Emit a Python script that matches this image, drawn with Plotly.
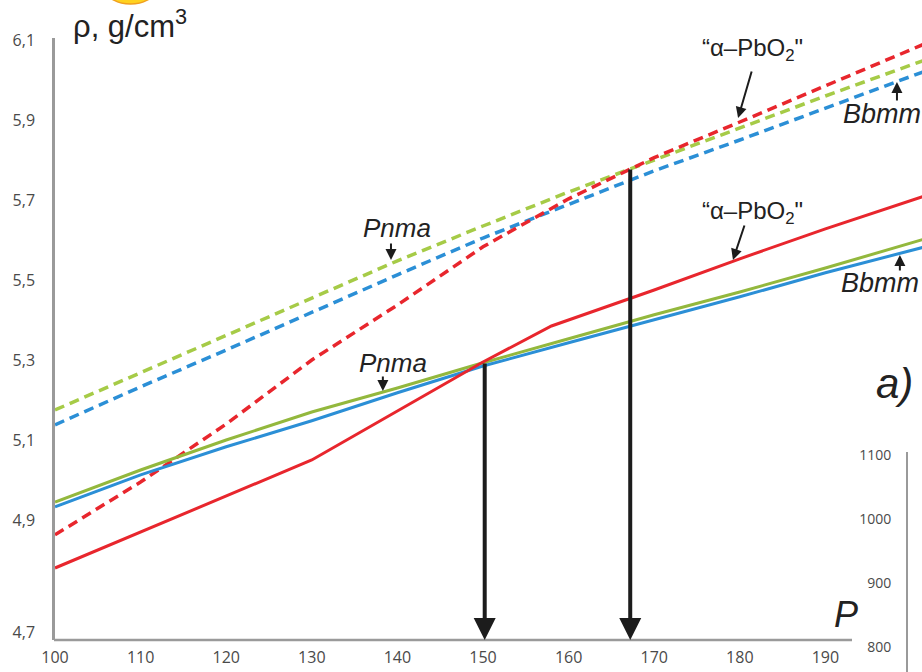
import plotly.graph_objects as go

W, H = 922, 672

# ---- data ----
pressure = [100, 110, 120, 130, 140, 150, 160, 170, 180, 190, 202]
pnma_dashed = [5.175, 5.268, 5.361, 5.455, 5.548, 5.635, 5.72, 5.80, 5.88, 5.96, 6.053]
bbmm_dashed = [5.138, 5.233, 5.325, 5.42, 5.513, 5.605, 5.69, 5.773, 5.85, 5.93, 6.025]
apbo2_dashed = [4.863, 4.995, 5.14, 5.30, 5.4375, 5.583, 5.703, 5.806, 5.895, 5.985, 6.094]
pnma_solid = [4.945, 5.025, 5.10, 5.17, 5.23, 5.293, 5.353, 5.413, 5.47, 5.53, 5.605]
bbmm_solid = [4.933, 5.013, 5.083, 5.148, 5.218, 5.285, 5.343, 5.40, 5.458, 5.518, 5.585]
pressure_apbo2_solid = [100, 130, 150, 158, 170, 180, 190, 202]
apbo2_solid = [4.78, 5.05, 5.295, 5.385, 5.475, 5.553, 5.628, 5.713]

transition_p = [150.2, 167.2]
transition_rho = [5.295, 5.78]

x_tick_vals = [100, 110, 120, 130, 140, 150, 160, 170, 180, 190]
x_tick_text = ["100", "110", "120", "130", "140", "150", "160", "170", "180", "190"]
y_tick_vals = [4.62, 4.9, 5.1, 5.3, 5.5, 5.7, 5.9, 6.1]
y_tick_text = ["4,7", "4,9", "5,1", "5,3", "5,5", "5,7", "5,9", "6,1"]
inset_tick_vals = [800, 900, 1000, 1100]
inset_tick_text = ["800", "900", "1000", "1100"]

# label tips (data coords) for the small pointer arrows
label_tips = {
    "apbo2_top": (179.8, 5.905),
    "bbmm_top": (198.36, 5.995),
    "pnma_top": (139.25, 5.55),
    "apbo2_low": (179.2, 5.55),
    "bbmm_low": (198.7, 5.5625),
    "pnma_low": (138.3, 5.2225),
}

RED = "#e8262d"
GREEN_D = "#a6cb47"
GREEN_S = "#93b83d"
BLUE = "#2b8fd6"
AXIS = "#9a9a9a"
TICKC = "#4a4a4a"

def px(xp):
    return xp / W

def py(yp):
    return 1 - yp / H

fig = go.Figure()

dash = "10px,6px"
fig.add_trace(go.Scatter(x=pressure, y=pnma_dashed, mode="lines",
                         line=dict(color=GREEN_D, width=3.5, dash=dash)))
fig.add_trace(go.Scatter(x=pressure, y=bbmm_dashed, mode="lines",
                         line=dict(color=BLUE, width=3.5, dash=dash)))
fig.add_trace(go.Scatter(x=pressure, y=apbo2_dashed, mode="lines",
                         line=dict(color=RED, width=3.5, dash=dash)))
fig.add_trace(go.Scatter(x=pressure, y=pnma_solid, mode="lines",
                         line=dict(color=GREEN_S, width=3)))
fig.add_trace(go.Scatter(x=pressure, y=bbmm_solid, mode="lines",
                         line=dict(color=BLUE, width=3)))
fig.add_trace(go.Scatter(x=pressure_apbo2_solid, y=apbo2_solid, mode="lines",
                         line=dict(color=RED, width=3)))
# inset axis carrier (empty)
fig.add_trace(go.Scatter(x=[], y=[], xaxis="x2", yaxis="y2"))

y_lo = 4.6
y_hi = 4.6 + 602 / 400.0
x_lo = 100
x_hi = 100 + 867 / 8.56

annotations = []
# big transition arrows
for p, r in zip(transition_p, transition_rho):
    annotations.append(dict(x=p, y=y_lo, xref="x", yref="y", ax=p, ay=r,
                            axref="x", ayref="y", text="", showarrow=True,
                            arrowhead=2, arrowsize=1.1, arrowwidth=4,
                            arrowcolor="#1c1c1c"))

def pointer(key, dx, dy):
    x, y = label_tips[key]
    annotations.append(dict(x=x, y=y, xref="x", yref="y", ax=dx, ay=dy,
                            text="", showarrow=True, arrowhead=2,
                            arrowsize=1.1, arrowwidth=2, arrowcolor="#1c1c1c"))

pointer("apbo2_top", 14, -48)
pointer("bbmm_top", 0, 20)
pointer("pnma_top", 0, -18)
pointer("apbo2_low", 12, -36)
pointer("bbmm_low", 0, 17)
pointer("pnma_low", 0, -16)

def label(text, xp, yp, size, italic=False, xanchor="center"):
    annotations.append(dict(x=px(xp), y=py(yp), xref="paper", yref="paper",
                            text=text, showarrow=False, xanchor=xanchor,
                            yanchor="middle",
                            font=dict(family="Liberation Sans, Arial",
                                      size=size, color="#222222",
                                      style="italic" if italic else "normal")))

label("\u201c\u03b1\u2013PbO<sub>2</sub>\"", 752, 50, 24)
label("Bbmm", 882, 114, 27, italic=True)
label("Pnma", 397, 228, 26, italic=True)
label("\u201c\u03b1\u2013PbO<sub>2</sub>\"", 752, 212, 24)
label("Bbmm", 880, 283, 27, italic=True)
label("Pnma", 393, 363, 26, italic=True)
label("a)", 894, 383, 42, italic=True)
label("P", 846, 614, 36, italic=True)
label("\u03c1, g/cm<sup>3</sup>", 71, 24, 31, xanchor="left")

shapes = [
    # x axis baseline (ends where the inset panel begins)
    dict(type="line", xref="paper", yref="paper", x0=px(54), x1=px(852),
         y0=py(640), y1=py(640), line=dict(color=AXIS, width=2.5)),
    # yellow mark at top
    dict(type="circle", xref="paper", yref="paper", x0=px(107), x1=px(154),
         y0=py(4), y1=py(-22), fillcolor="#ffd21f",
         line=dict(color="#f0a020", width=1.5)),
]

fig.update_layout(
    template="none",
    width=W, height=H, autosize=False,
    margin=dict(l=0, r=0, t=0, b=0, pad=0),
    paper_bgcolor="white", plot_bgcolor="white",
    showlegend=False,
    xaxis=dict(domain=[px(55), 1], range=[x_lo, x_hi], showgrid=False,
               zeroline=False, showline=False, ticks="", automargin=False,
               tickvals=x_tick_vals, ticktext=x_tick_text,
               tickfont=dict(family="Open Sans", size=16, color=TICKC),
               ticklabelstandoff=6, anchor="y"),
    yaxis=dict(domain=[py(640), py(38)], range=[y_lo, y_hi], showgrid=False,
               zeroline=False, showline=True, linecolor=AXIS, linewidth=2.5,
               ticks="", tickvals=y_tick_vals, ticktext=y_tick_text,
               automargin=False,
               tickfont=dict(family="Open Sans", size=16, color=TICKC),
               ticklabelstandoff=14, anchor="x"),
    xaxis2=dict(domain=[px(908), 1], range=[0, 1], visible=False, anchor="y2",
                automargin=False),
    yaxis2=dict(domain=[0, py(452)], range=[761, 1104.7], showgrid=False,
                zeroline=False, showline=True, linecolor=AXIS, linewidth=2,
                ticks="", tickvals=inset_tick_vals, ticktext=inset_tick_text,
                automargin=False,
                tickfont=dict(family="Open Sans", size=14, color=TICKC),
                ticklabelstandoff=12, anchor="x2", side="left"),
    annotations=annotations,
    shapes=shapes,
)

fig.write_html("out.html", config={"displayModeBar": False},
               post_script="document.body.style.margin='0';"
                           "document.body.style.overflow='hidden';")
